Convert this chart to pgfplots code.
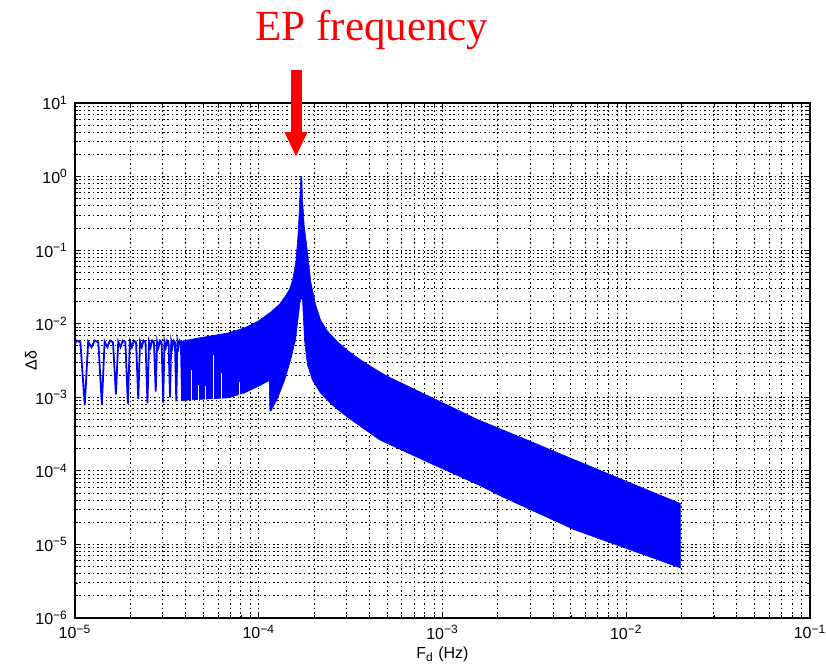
\documentclass[border=0pt]{standalone}
\usepackage{fontspec}
\setmainfont{Liberation Sans}
\newfontfamily\titlefont{Liberation Serif}
\usepackage{pgfplots}
\pgfplotsset{compat=1.18}
\usetikzlibrary{arrows.meta}

\begin{document}
\begin{tikzpicture}

\definecolor{mblue}{RGB}{0,0,255}
\definecolor{mred}{RGB}{255,0,0}

\begin{axis}[
name=ax,
scale only axis,
width=367.5pt, height=257.5pt,
xmode=log, ymode=log,
xmin=1e-5, xmax=1e-1,
ymin=1e-6, ymax=1e1,
xtick={1e-5,1e-4,1e-3,1e-2,1e-1},
xticklabels={10\textsuperscript{−5},10\textsuperscript{−4},10\textsuperscript{−3},10\textsuperscript{−2},10\textsuperscript{−1}},
ytick={1e-6,1e-5,1e-4,1e-3,1e-2,1e-1,1e0,1e1},
yticklabels={10\textsuperscript{−6},10\textsuperscript{−5},10\textsuperscript{−4},10\textsuperscript{−3},10\textsuperscript{−2},10\textsuperscript{−1},10\textsuperscript{0},10\textsuperscript{1}},
minor xtick={2e-5,3e-5,4e-5,5e-5,6e-5,7e-5,8e-5,9e-5,
  2e-4,3e-4,4e-4,5e-4,6e-4,7e-4,8e-4,9e-4,
  2e-3,3e-3,4e-3,5e-3,6e-3,7e-3,8e-3,9e-3,
  2e-2,3e-2,4e-2,5e-2,6e-2,7e-2,8e-2,9e-2},
minor ytick={2e-6,3e-6,4e-6,5e-6,6e-6,7e-6,8e-6,9e-6,
  2e-5,3e-5,4e-5,5e-5,6e-5,7e-5,8e-5,9e-5,
  2e-4,3e-4,4e-4,5e-4,6e-4,7e-4,8e-4,9e-4,
  2e-3,3e-3,4e-3,5e-3,6e-3,7e-3,8e-3,9e-3,
  2e-2,3e-2,4e-2,5e-2,6e-2,7e-2,8e-2,9e-2,
  2e-1,3e-1,4e-1,5e-1,6e-1,7e-1,8e-1,9e-1,
  2,3,4,5,6,7,8,9},
grid=both,
major grid style={black, line width=0.45pt, dash pattern=on 0.8pt off 1.4pt},
minor grid style={black, line width=0.45pt, dash pattern=on 0.8pt off 1.4pt},
tick align=inside, tick pos=both,
major tick length=3pt, minor tick length=1.6pt,
tick style={black, line width=0.4pt},
axis line style={black, line width=0.7pt},
ticklabel style={font=\fontsize{8}{9}\selectfont},
label style={font=\fontsize{8}{9}\selectfont},
xlabel={F\textsubscript{d} (Hz)},
ylabel={Δδ},
xlabel style={yshift=3pt},
ylabel style={yshift=-7.5pt},
clip=false
]

% envelope of the response
\addplot [draw=mblue, fill=mblue, line width=0.3pt] coordinates {
(3.80e-5,5.8e-3) (4.71e-5,6.4e-3) (6.83e-5,7.5e-3) (8.40e-5,8.8e-3)
(9.91e-5,1.08e-2) (1.168e-4,1.45e-2) (1.300e-4,1.85e-2) (1.400e-4,2.4e-2)
(1.468e-4,2.9e-2) (1.529e-4,3.94e-2) (1.593e-4,6.98e-2) (1.641e-4,0.178) (1.674e-4,0.507)
(1.695e-4,1.0) (1.716e-4,1.0) (1.731e-4,0.507) (1.767e-4,0.22)
(1.841e-4,9.55e-2) (1.919e-4,3.73e-2) (2.041e-4,1.80e-2) (2.171e-4,1.12e-2)
(2.36e-4,8.0e-3) (2.70e-4,5.6e-3) (3.02e-4,4.4e-3) (3.60e-4,3.2e-3) (4.38e-4,2.35e-3)
(4.97e-4,1.95e-3) (8.46e-4,1.03e-3) (1.57e-3,4.93e-4) (2.92e-3,2.60e-4)
(5.24e-3,1.41e-4) (1.97e-2,3.6e-5)
(1.97e-2,4.8e-6) (5.24e-3,1.58e-5) (2.12e-3,4.43e-5) (1.57e-3,6.45e-5)
(8.46e-4,1.29e-4) (4.55e-4,2.64e-4) (3.02e-4,5.42e-4) (2.51e-4,7.89e-4)
(2.163e-4,1.15e-3) (1.959e-4,1.72e-3) (1.841e-4,2.75e-3) (1.775e-4,6.03e-3)
(1.731e-4,2.10e-2) (1.688e-4,2.24e-2) (1.646e-4,1.32e-2) (1.586e-4,6.03e-3)
(1.491e-4,3.22e-3) (1.384e-4,1.72e-3) (1.269e-4,9.82e-4) (1.165e-4,6.5e-4)
(1.150e-4,6.5e-4) (1.140e-4,1.7e-3) (1.028e-4,1.47e-3) (8.40e-5,1.15e-3)
(6.83e-5,9.82e-4) (4.16e-5,9.22e-4) (3.80e-5,9.0e-4)
} -- cycle;

% gaps inside the band
\addplot [white, line width=0.6pt, unbounded coords=jump] coordinates {
(4.32e-5,8.6e-4) (4.32e-5,2.36e-3) (nan,nan)
(4.71e-5,8.6e-4) (4.71e-5,1.47e-3) (nan,nan)
(5.12e-5,8.6e-4) (5.12e-5,1.41e-3) (nan,nan)
(5.67e-5,8.6e-4) (5.67e-5,3.77e-3) (nan,nan)
(6.26e-5,8.6e-4) (6.26e-5,2.15e-3) (nan,nan)
(7.89e-5,9.0e-4) (7.89e-5,1.63e-3)
};

% slow oscillation at low frequency
\addplot [mblue, line width=0.9pt] coordinates {
(10.0e-6,5.3e-3) (10.2e-6,5.9e-3) (10.7e-6,5.6e-3)
(11.3e-6,7.8e-4) (11.8e-6,5.7e-3) (12.3e-6,4.8e-3) (12.8e-6,5.9e-3) (13.4e-6,5.6e-3)
(14.0e-6,8.0e-4) (14.5e-6,5.7e-3) (15.0e-6,4.8e-3) (15.5e-6,5.9e-3) (16.1e-6,5.6e-3)
(16.7e-6,1.1e-3) (17.2e-6,5.7e-3) (17.7e-6,4.8e-3) (18.2e-6,5.9e-3) (18.8e-6,5.6e-3)
(19.4e-6,8.2e-4) (19.9e-6,5.7e-3) (20.4e-6,4.8e-3) (20.9e-6,5.9e-3) (21.5e-6,5.6e-3)
(22.1e-6,9.5e-4) (22.6e-6,5.7e-3) (23.1e-6,4.8e-3) (23.6e-6,5.9e-3) (24.2e-6,5.6e-3)
(24.8e-6,8.3e-4) (25.3e-6,5.7e-3) (25.8e-6,4.8e-3) (26.3e-6,5.9e-3) (26.9e-6,5.6e-3)
(27.5e-6,1.2e-3) (28.0e-6,5.7e-3) (28.5e-6,4.8e-3) (29.0e-6,5.9e-3) (29.6e-6,5.6e-3)
(30.2e-6,8.5e-4) (30.7e-6,5.7e-3) (31.2e-6,4.8e-3) (31.7e-6,5.9e-3) (32.3e-6,5.6e-3)
(32.9e-6,1.0e-3) (33.4e-6,5.7e-3) (33.9e-6,4.8e-3) (34.4e-6,5.9e-3) (35.0e-6,5.6e-3)
(35.6e-6,8.8e-4) (36.1e-6,5.7e-3) (36.6e-6,4.8e-3) (37.1e-6,5.9e-3) (37.7e-6,5.6e-3)
(38.3e-6,9.0e-4) (38.8e-6,5.8e-3)
};

% annotation
\node [anchor=base, text=mred, font=\titlefont\fontsize{21.5}{24}\selectfont, inner sep=0pt]
  at (rel axis cs:0.4040,1.1204) {EP frequency};
\draw [mred, line width=5.5pt, -{Triangle[width=10.5pt,length=12.5pt]}]
  (rel axis cs:0.3007,1.0641) -- (rel axis cs:0.3007,0.8951);
\end{axis}

\pgfresetboundingbox
\path [use as bounding box] ([xshift=-37.5pt,yshift=-23pt]ax.south west)
  rectangle ([xshift=8pt,yshift=51.5pt]ax.north east);

\end{tikzpicture}
\end{document}
